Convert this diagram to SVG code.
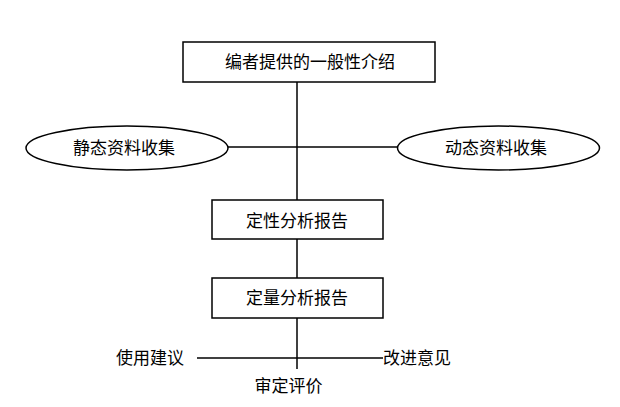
<svg xmlns="http://www.w3.org/2000/svg" width="620" height="407" viewBox="0 0 620 407">
<style>
.box{fill:#fff;stroke:#000;stroke-width:1.5}
.ln{stroke:#000;stroke-width:1.5;fill:none}
text{font-family:"Noto Sans CJK SC","Noto Sans CJK JP",sans-serif;font-size:17px;fill:#000}
.c{text-anchor:middle}
</style>
<rect width="620" height="407" fill="#fff"/>
<g id="connectors">
<line class="ln" x1="297" y1="82" x2="297" y2="200"/>
<line class="ln" x1="228" y1="147" x2="397" y2="147"/>
<line class="ln" x1="297" y1="239" x2="297" y2="278"/>
<line class="ln" x1="297" y1="318" x2="297" y2="369"/>
<line class="ln" x1="197" y1="358" x2="383" y2="358"/>
</g>
<g id="intro">
<rect class="box" x="183" y="42" width="252" height="40"/>
<text class="c" x="310" y="68">编者提供的一般性介绍</text>
</g>
<g id="static">
<ellipse class="box" cx="127" cy="148" rx="101" ry="22"/>
<text class="c" x="124" y="154">静态资料收集</text>
</g>
<g id="dynamic">
<ellipse class="box" cx="498.5" cy="148" rx="101" ry="22"/>
<text class="c" x="496" y="154">动态资料收集</text>
</g>
<g id="qualitative">
<rect class="box" x="212" y="200" width="171" height="39"/>
<text class="c" x="297" y="226.5">定性分析报告</text>
</g>
<g id="quantitative">
<rect class="box" x="212" y="278" width="171" height="40"/>
<text class="c" x="297" y="304">定量分析报告</text>
</g>
<g id="usage">
<text class="c" x="150" y="363.5">使用建议</text>
</g>
<g id="improve">
<text x="383" y="363.5">改进意见</text>
</g>
<g id="review">
<text class="c" x="288.5" y="391.5">审定评价</text>
</g>
</svg>
